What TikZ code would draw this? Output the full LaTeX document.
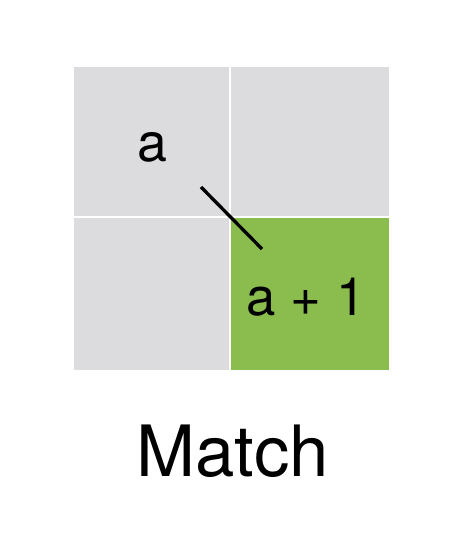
\documentclass[tikz,border=0pt]{standalone}
\usepackage{fontspec}
\setmainfont{TeX Gyre Heros}
\definecolor{cellgrey}{HTML}{DCDCDE}
\definecolor{cellgreen}{HTML}{8BBD4E}
\begin{document}
\begin{tikzpicture}[x=1bp,y=-1bp,
  cell/.style={fill=cellgrey},
  lbl/.style={inner sep=0pt,anchor=base,font=\fontsize{54}{58}\selectfont}]
\useasboundingbox (0,0) rectangle (474,534);
\fill[white] (0,0) rectangle (474,534);
\fill[cell] (74,67) rectangle (229,216);
\fill[cell] (231,67) rectangle (389,216);
\fill[cell] (74,218) rectangle (229,370);
\fill[cellgreen] (231,218) rectangle (389,370);
\node[lbl] (a) at (152,162) {a};
\node[lbl,font=\fontsize{53}{57}\selectfont] (a1) at (306,315) {a + 1};
\coordinate (s) at (201,187);
\coordinate (e) at (262,249);
\draw[line width=3.3bp] (s) -- (e);
\node[lbl,font=\fontsize{71}{75}\selectfont] (m) at (233,476) {Match};
\end{tikzpicture}
\end{document}
